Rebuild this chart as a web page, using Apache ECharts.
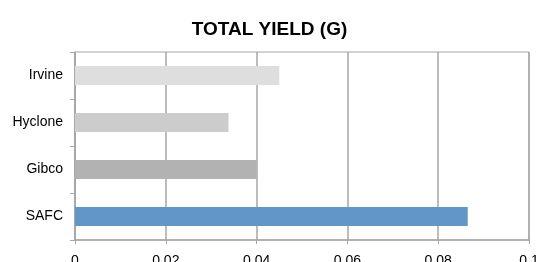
<!DOCTYPE html>
<html>
<head>
<meta charset="utf-8">
<script src="https://cdn.jsdelivr.net/npm/echarts@6/dist/echarts.min.js"></script>
<style>
  html, body { margin: 0; padding: 0; background: #fff; }
  #main { width: 539px; height: 262px; }
</style>
</head>
<body>
<div id="main"></div>
<script>
// data
var categories = ['SAFC', 'Gibco', 'Hyclone', 'Irvine'];
var yieldValues = [0.0865, 0.04, 0.0338, 0.045];
var barColors = ['#6096c8', '#b2b2b2', '#cccccc', '#dedede'];
var xTicks = [0, 0.02, 0.04, 0.06, 0.08, 0.1];

var chart = echarts.init(document.getElementById('main'), null, { renderer: 'canvas' });

var option = {
  animation: false,
  title: {
    text: 'TOTAL YIELD (G)',
    left: 'center',
    top: 15,
    textStyle: {
      fontFamily: 'Liberation Sans, Arial, sans-serif',
      fontSize: 19,
      fontWeight: 'bold',
      color: '#000'
    }
  },
  grid: {
    left: 75,
    right: 10,
    top: 52,
    bottom: 22,
    outerBoundsMode: 'none',
    show: true,
    borderColor: '#a6a6a6',
    borderWidth: 1
  },
  xAxis: {
    type: 'value',
    min: 0,
    max: 0.1,
    interval: 0.02,
    axisLine: { show: true, lineStyle: { color: '#a6a6a6', width: 1.5 } },
    axisTick: { show: true, length: 4, lineStyle: { color: '#a6a6a6' } },
    splitLine: { show: true, lineStyle: { color: '#a6a6a6', width: 1.5 } },
    axisLabel: {
      margin: 14,
      fontFamily: 'Liberation Sans, Arial, sans-serif',
      fontSize: 14,
      color: '#000',
      formatter: function (v) {
        var s = xTicks.indexOf(+v.toFixed(2)) >= 0 ? String(+v.toFixed(2)) : '';
        return s;
      }
    }
  },
  yAxis: {
    type: 'category',
    data: categories,
    axisLine: { show: true, lineStyle: { color: '#a6a6a6', width: 1.5 } },
    axisTick: { show: true, length: 5, lineStyle: { color: '#a6a6a6' } },
    axisLabel: {
      margin: 12,
      fontFamily: 'Liberation Sans, Arial, sans-serif',
      fontSize: 14,
      color: '#000'
    }
  },
  series: [
    {
      type: 'bar',
      barWidth: 19,
      data: yieldValues.map(function (v, i) {
        return { value: v, itemStyle: { color: barColors[i] } };
      })
    }
  ]
};

chart.setOption(option);
</script>
</body>
</html>
